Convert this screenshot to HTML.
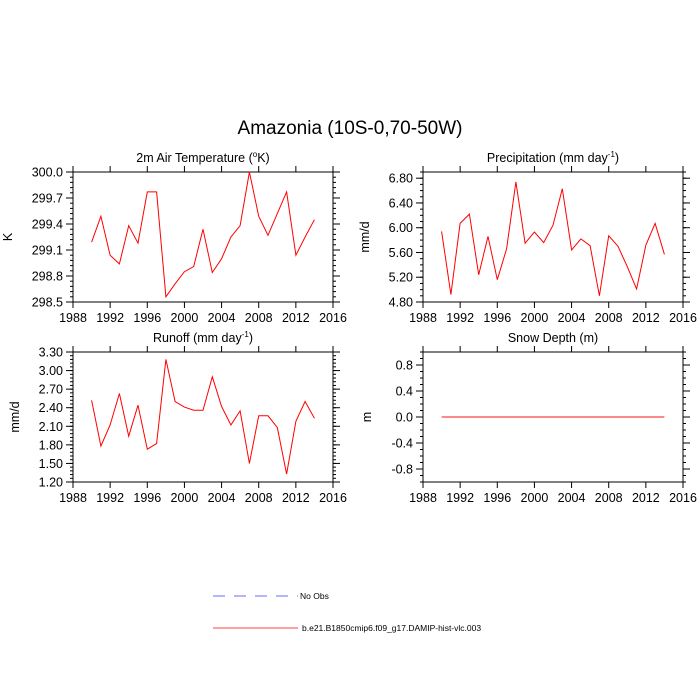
<!DOCTYPE html>
<html><head><meta charset="utf-8"><style>
body{margin:0;background:#fff;}
svg{display:block;font-family:"Liberation Sans",sans-serif;}
</style></head><body>
<svg id="c" width="700" height="700" viewBox="0 0 700 700">
<text x="350" y="134" text-anchor="middle" font-size="19">Amazonia (10S-0,70-50W)</text>
<g>
<line x1="213" y1="596" x2="298" y2="596" stroke="#6b6bff" stroke-width="1" stroke-dasharray="12,9"/>
<text x="300" y="599" font-size="8.5">No Obs</text>
<line x1="213" y1="628" x2="298" y2="628" stroke="#ff4040" stroke-width="1"/>
<text x="302" y="631" font-size="8.5">b.e21.B1850cmip6.f09_g17.DAMIP-hist-vlc.003</text>
</g>
</svg>
<script>
const years = [1990,1991,1992,1993,1994,1995,1996,1997,1998,1999,2000,2001,2002,2003,2004,2005,2006,2007,2008,2009,2010,2011,2012,2013,2014];
const tempValues = [299.19,299.49,299.04,298.94,299.38,299.18,299.77,299.77,298.56,298.71,298.85,298.91,299.34,298.84,299.0,299.25,299.38,300.0,299.49,299.27,299.52,299.77,299.04,299.25,299.45];
const precipValues = [5.94,4.92,6.07,6.22,5.24,5.86,5.16,5.66,6.74,5.75,5.93,5.76,6.04,6.63,5.64,5.82,5.71,4.90,5.87,5.70,5.37,5.01,5.72,6.07,5.57];
const runoffValues = [2.52,1.78,2.12,2.63,1.94,2.44,1.73,1.82,3.18,2.50,2.41,2.36,2.36,2.90,2.42,2.12,2.35,1.50,2.27,2.27,2.08,1.33,2.18,2.50,2.23];
const snowValues = [0,0,0,0,0,0,0,0,0,0,0,0,0,0,0,0,0,0,0,0,0,0,0,0,0];
const xTicks = [1988,1992,1996,2000,2004,2008,2012,2016];
const tempTicks = [298.5,298.8,299.1,299.4,299.7,300.0];
const precipTicks = [4.80,5.20,5.60,6.00,6.40,6.80];
const runoffTicks = [1.20,1.50,1.80,2.10,2.40,2.70,3.00,3.30];
const snowTicks = [-0.8,-0.4,0.0,0.4,0.8];

const NS="http://www.w3.org/2000/svg";
const svg=document.getElementById('c');
function mk(tag,attrs,parent){const e=document.createElementNS(NS,tag);for(const k in attrs)e.setAttribute(k,attrs[k]);parent.appendChild(e);return e;}

function panel(cfg){
  const {x0,x1,y0,y1,ymin,ymax,yt,dec,values,title,sup,ylabel,name,minorStep,color}=cfg;
  const g=mk('g',{},svg);
  
  
  const xs=v=>x0+(v-1988)/(2016-1988)*(x1-x0);
  const ys=v=>y1-(v-ymin)/(ymax-ymin)*(y1-y0);
  const box=mk('rect',{x:x0,y:y0,width:x1-x0,height:y1-y0,fill:'none',stroke:'#000','stroke-width':1},g);
  
  
  // x ticks
  xTicks.forEach(t=>{
    const x=xs(t);
    mk('line',{x1:x,y1:y1,x2:x,y2:y1+6,stroke:'#000'},g);
    mk('line',{x1:x,y1:y0,x2:x,y2:y0-6,stroke:'#000'},g);
    const tx=mk('text',{x:x,y:y1+20,'text-anchor':'middle','font-size':12.5},g);
    tx.textContent=t;
    
    
  });
  // minor y ticks
  for(let v=ymin;v<=ymax+1e-9;v+=minorStep){
    const y=ys(v);
    mk('line',{x1:x0,y1:y,x2:x0-3,y2:y,stroke:'#000'},g);
    mk('line',{x1:x1,y1:y,x2:x1+3,y2:y,stroke:'#000'},g);
  }
  yt.forEach(t=>{
    const y=ys(t);
    mk('line',{x1:x0,y1:y,x2:x0-7,y2:y,stroke:'#000'},g);
    mk('line',{x1:x1,y1:y,x2:x1+7,y2:y,stroke:'#000'},g);
    const tx=mk('text',{x:x0-10,y:y+4.5,'text-anchor':'end','font-size':12.5},g);
    tx.textContent=t.toFixed(dec);
    
    
  });
  const tt=mk('text',{x:(x0+x1)/2,y:y0-10,'text-anchor':'middle','font-size':12.5},g);
  tt.textContent=title;
  if(sup){const ts=mk('tspan',{'font-size':8,dy:-5},tt);ts.textContent=sup.s;const t2=mk('tspan',{dy:5},tt);t2.textContent=sup.after;}
  
  
  const yl=mk('text',{x:0,y:0,'text-anchor':'middle','font-size':12.5,transform:`translate(${cfg.ylx},${(y0+y1)/2}) rotate(-90)`},g);
  yl.textContent=ylabel;
  
  
  const pts=years.map((yr,i)=>xs(yr).toFixed(1)+','+ys(values[i]).toFixed(1)).join(' ');
  const pl=mk('polyline',{points:pts,fill:'none',stroke:color,'stroke-width':cfg.sw||1},g);
  
  
}
panel({x0:73,x1:333,y0:172,y1:302,ymin:298.5,ymax:300.0,yt:tempTicks,dec:1,values:tempValues,title:'2m Air Temperature (',sup:{s:'o',after:'K)'},ylabel:'K',ylx:12,name:'temperature',minorStep:0.06,color:'#ff0000'});
panel({x0:423,x1:683,y0:172,y1:302,ymin:4.80,ymax:6.90,yt:precipTicks,dec:2,values:precipValues,title:'Precipitation (mm day',sup:{s:'-1',after:')'},ylabel:'mm/d',ylx:369,name:'precipitation',minorStep:0.1,color:'#ff0000'});
panel({x0:73,x1:333,y0:352,y1:482,ymin:1.20,ymax:3.30,yt:runoffTicks,dec:2,values:runoffValues,title:'Runoff (mm day',sup:{s:'-1',after:')'},ylabel:'mm/d',ylx:19,name:'runoff',minorStep:0.06,color:'#ff0000'});
panel({x0:423,x1:683,y0:352,y1:482,ymin:-1,ymax:1,yt:snowTicks,dec:1,values:snowValues,title:'Snow Depth (m)',sup:null,ylabel:'m',ylx:371,name:'snow-depth',minorStep:0.1,color:'#ff6060',sw:1.5});
</script>
</body></html>
